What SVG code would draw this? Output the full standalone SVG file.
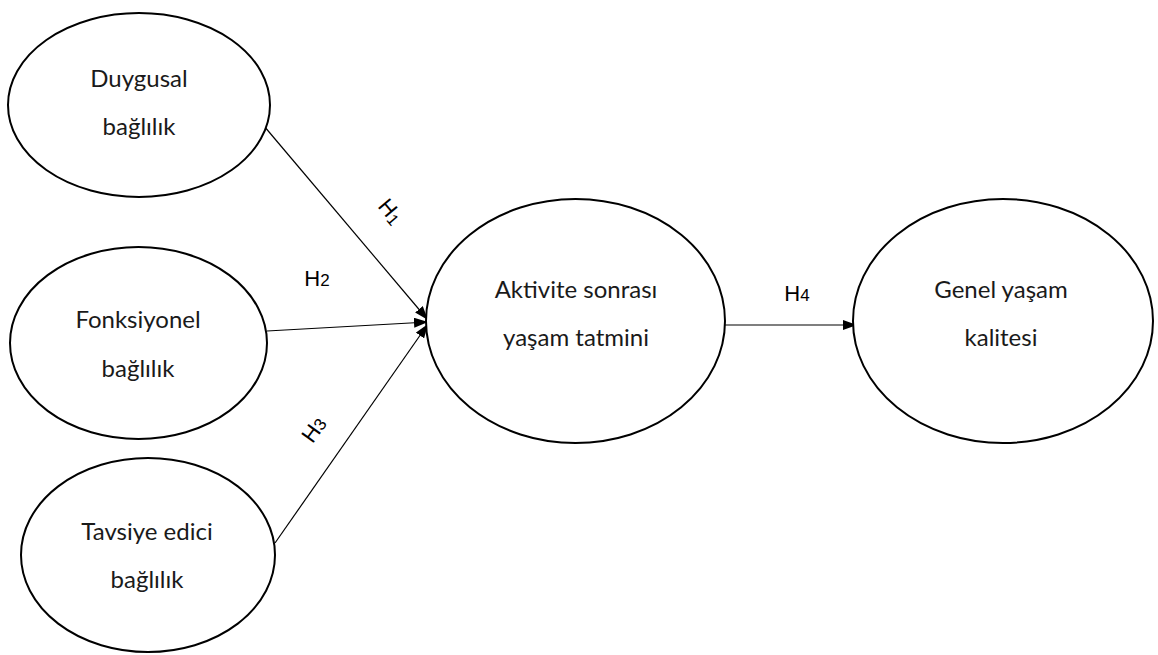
<svg xmlns="http://www.w3.org/2000/svg" width="1158" height="655" viewBox="0 0 1158 655">
<style>
.node{fill:#fff;stroke:#000;stroke-width:2}
.lbl{font-family:Lato,"Open Sans",sans-serif;font-size:24px;fill:#1a1a1a;text-anchor:middle}
.conn{stroke:#000;stroke-width:1.2;fill:none}
.h{font-family:"Liberation Sans",Arial,sans-serif;font-size:22px;fill:#000;text-anchor:middle}
</style>
<defs>
<marker id="arr" viewBox="0 0 14 10" refX="14" refY="5" markerWidth="14" markerHeight="10" markerUnits="userSpaceOnUse" orient="auto">
<path d="M0,0 L14,5 L0,10 Z" fill="#000"/>
</marker>
</defs>
<g id="connectors">
<line class="conn" x1="264" y1="126" x2="428" y2="320" marker-end="url(#arr)"/>
<line class="conn" x1="267" y1="331" x2="428" y2="322" marker-end="url(#arr)"/>
<line class="conn" x1="275" y1="543" x2="428" y2="324" marker-end="url(#arr)"/>
<line class="conn" x1="725" y1="325" x2="857" y2="325" marker-end="url(#arr)"/>
<text class="h" transform="translate(385,216) rotate(50)">H<tspan font-size="16" dy="2">1</tspan></text>
<text class="h" x="317" y="286">H<tspan font-size="17">2</tspan></text>
<text class="h" transform="translate(320,434) rotate(-54)">H<tspan font-size="17">3</tspan></text>
<text class="h" x="797" y="301">H<tspan font-size="17">4</tspan></text>
</g>
<g id="duygusal">
<ellipse class="node" cx="139" cy="105" rx="131" ry="92"/>
<text class="lbl" x="139" y="87">Duygusal</text>
<text class="lbl" x="139" y="135">bağlılık</text>
</g>
<g id="fonksiyonel">
<ellipse class="node" cx="138.5" cy="343" rx="128.5" ry="96"/>
<text class="lbl" x="138" y="328">Fonksiyonel</text>
<text class="lbl" x="138" y="377">bağlılık</text>
</g>
<g id="tavsiye">
<ellipse class="node" cx="148" cy="555" rx="127" ry="97"/>
<text class="lbl" x="147" y="540">Tavsiye edici</text>
<text class="lbl" x="147" y="588">bağlılık</text>
</g>
<g id="aktivite">
<ellipse class="node" cx="575.5" cy="321" rx="149.5" ry="122"/>
<text class="lbl" x="576" y="298">Aktivite sonrası</text>
<text class="lbl" x="576" y="346">yaşam tatmini</text>
</g>
<g id="genel">
<ellipse class="node" cx="1003" cy="321" rx="150" ry="122"/>
<text class="lbl" x="1001" y="298">Genel yaşam</text>
<text class="lbl" x="1001" y="346">kalitesi</text>
</g>
</svg>
